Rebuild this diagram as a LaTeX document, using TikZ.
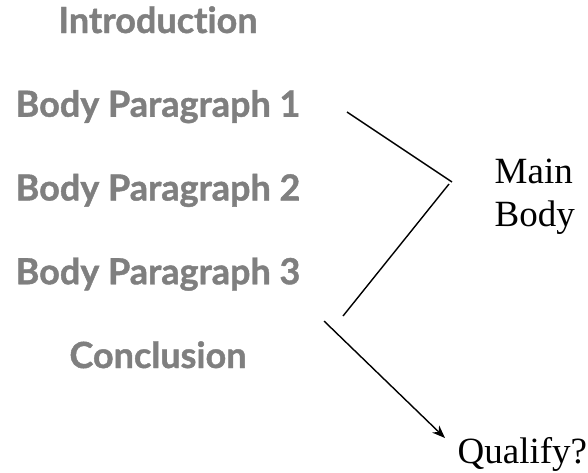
\documentclass[tikz,border=0pt]{standalone}
\usepackage{fontspec}
\setmainfont{Liberation Serif}
\newfontfamily\partfont[Ligatures=NoCommon, BoldFeatures={FakeBold=1.2}]{Lato}
\usetikzlibrary{positioning,arrows.meta}
\definecolor{partgray}{HTML}{7F7F7F}

\begin{document}
\begin{tikzpicture}[x=1pt, y=-1pt, >={Stealth[length=13pt,width=10pt]}, line width=1.4pt,
  part/.style={inner sep=0pt, text=partgray, font=\partfont\bfseries\fontsize{36}{40}\selectfont},
  note/.style={inner sep=0pt, align=left, font=\fontsize{37}{43}\selectfont}
]
\useasboundingbox (0,0) rectangle (588,472);

% Essay parts
\node[part, anchor=base] (intro) at (158,33) {Introduction};
\node[part, below=83.75pt of intro.base, anchor=base] (body1) {Body Paragraph 1};
\node[part, below=83.75pt of body1.base, anchor=base] (body2) {Body Paragraph 2};
\node[part, below=83.75pt of body2.base, anchor=base] (body3) {Body Paragraph 3};
\node[part, below=83.75pt of body3.base, anchor=base] (concl) {Conclusion};

% Notes
\node[note, anchor=base west] (main) at (494,226) {Main\\Body};
\node[note, anchor=base west] (qualify) at (457,463) {Qualify?};

% Brace ends
\coordinate (bracetop) at (347,112);
\coordinate (bracetip) at (452,182);
\coordinate (bracetip2) at (449,184);
\coordinate (bracebot) at (343,316);
\coordinate (qstart) at (324,321);
\coordinate (qend) at (445,438);

% Lines
\draw (bracetop) -- (bracetip);
\draw (bracetip2) -- (bracebot);
\draw[->] (qstart) -- (qend);

\end{tikzpicture}
\end{document}
